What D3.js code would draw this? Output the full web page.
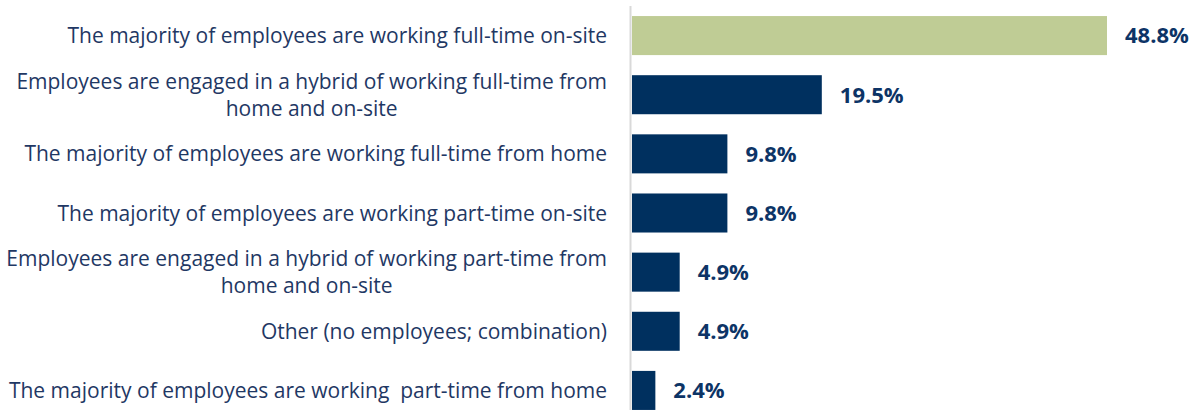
<!DOCTYPE html>
<meta charset='utf-8'>
<style>
html, body { margin: 0; padding: 0; background: #fff; }
svg { display: block; font-family: 'Open Sans', sans-serif; }
.cat { fill: #1f3864; font-size: 21px; white-space: pre; }
.val { fill: #0d3466; font-size: 22px; font-weight: bold; }
</style>
<body>
<div id='container'></div>
<script src='https://cdnjs.cloudflare.com/ajax/libs/d3/7.8.5/d3.min.js'></script>
<script>
// categories, each line of the label is one entry
var categories = [
  ['The majority of employees are working full-time on-site'],
  ['Employees are engaged in a hybrid of working full-time from', 'home and on-site'],
  ['The majority of employees are working full-time from home'],
  ['The majority of employees are working part-time on-site'],
  ['Employees are engaged in a hybrid of working part-time from', 'home and on-site'],
  ['Other (no employees; combination)'],
  ['The majority of employees are working  part-time from home']
];
var values = [48.8, 19.5, 9.8, 9.8, 4.9, 4.9, 2.4];
var valueLabels = ['48.8%', '19.5%', '9.8%', '9.8%', '4.9%', '4.9%', '2.4%'];

var W = 1200, H = 410;
var x0 = 632;

var svg = d3.select('#container').append('svg')
    .attr('width', W)
    .attr('height', H);

var y = d3.scaleBand()
    .domain(d3.range(values.length))
    .range([6, 420])
    .paddingInner(0.34)
    .paddingOuter(0.17);

var x = d3.scaleLinear()
    .domain([0, 48.8])
    .range([x0, 1107]);

// axis line
svg.append('line')
  .attr('x1', 630.5).attr('x2', 630.5)
  .attr('y1', 6).attr('y2', H)
  .attr('stroke', '#d9d9d9')
  .attr('stroke-width', 2);

svg.selectAll('rect.bar')
  .data(values)
  .enter().append('rect')
  .attr('class', 'bar')
  .attr('x', x(0))
  .attr('y', function(d, i){ return y(i); })
  .attr('width', function(d){ return x(d) - x(0); })
  .attr('height', y.bandwidth())
  .attr('fill', function(d, i){ return i == 0 ? '#bfcc95' : '#00305f'; });

svg.selectAll('text.val')
  .data(values)
  .enter().append('text')
  .attr('class', 'val')
  .attr('x', function(d){ return x(d) + 18; })
  .attr('y', function(d, i){ return y(i) + y.bandwidth()/2; })
  .attr('dy', '0.36em')
  .text(function(d, i){ return valueLabels[i]; });

// category labels, right aligned; wrapped lines are centered under the first
var lineH = 27;
categories.forEach(function(lines, i) {
  var cy = y(i) + y.bandwidth()/2;
  var top = cy - (lines.length - 1) * lineH / 2;
  var first = svg.append('text')
    .attr('class', 'cat')
    .attr('x', 607)
    .attr('y', top)
    .attr('dy', '0.36em')
    .attr('text-anchor', 'end')
    .text(lines[0]);
  var w = first.node().getComputedTextLength();
  for (var k = 1; k < lines.length; k++) {
    svg.append('text')
      .attr('class', 'cat')
      .attr('x', 607 - w/2)
      .attr('y', top + k*lineH)
      .attr('dy', '0.36em')
      .attr('text-anchor', 'middle')
      .text(lines[k]);
  }
});
</script>
</body>
